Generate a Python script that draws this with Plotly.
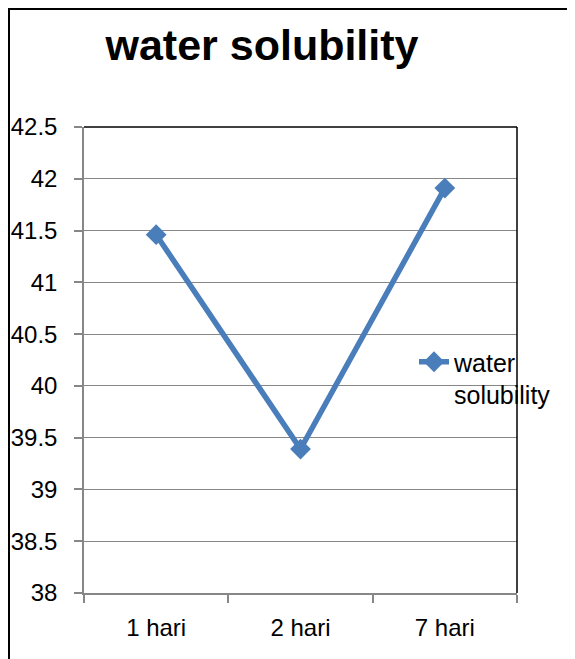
import plotly.graph_objects as go

categories = ["1 hari", "2 hari", "7 hari"]
values = [41.46, 39.39, 41.91]
series_name = "water solubility"
y_ticks = [38, 38.5, 39, 39.5, 40, 40.5, 41, 41.5, 42, 42.5]
y_labels = ["38", "38.5", "39", "39.5", "40", "40.5", "41", "41.5", "42", "42.5"]

# page body has an 8px margin; figure occupies screen 8..575 x 8..659
OFF = 8
W, H = 575 - OFF, 659 - OFF
L, T = 84 - OFF, 127 - OFF
R, B = W - (517 - OFF), H - (593 - OFF)
pw, ph = W - L - R, H - T - B

def px_x(X):
    return (X - 84) / pw

def px_y(Y):
    return (593 - Y) / ph

FONT = "Liberation Sans, Arial, sans-serif"
BLUE = "#4A7EBB"
GRID = "#878787"

fig = go.Figure()
fig.add_trace(go.Scatter(
    x=categories, y=values, mode="lines+markers", name="water<br>solubility",
    line=dict(color=BLUE, width=5.5),
    marker=dict(symbol="diamond", size=16, color=BLUE),
))

fig.update_layout(
    width=W, height=H,
    margin=dict(l=L, r=R, t=T, b=B, pad=0, autoexpand=False),
    paper_bgcolor="white", plot_bgcolor="white",
    font=dict(family=FONT, color="black", size=24),
    title=dict(text="<b>water solubility</b>", x=(262 - OFF) / W, xanchor="center",
               y=1 - (45 - OFF) / H, yanchor="middle", font=dict(size=43, family=FONT)),
    showlegend=True,
    legend=dict(x=px_x(414), y=px_y(339), xanchor="left", yanchor="top",
                bgcolor="rgba(0,0,0,0)", borderwidth=0, valign="top",
                font=dict(size=25, family=FONT)),
    xaxis=dict(range=[-0.5, 2.5], showgrid=False, showline=True, linecolor=GRID, linewidth=1.5,
               ticks="outside", ticklen=8, tickcolor=GRID, tickwidth=1.5,
               tickson="boundaries", ticklabelstandoff=12, automargin=False,
               tickfont=dict(size=24), fixedrange=True),
    yaxis=dict(range=[38, 42.5], tickvals=y_ticks, ticktext=y_labels,
               showgrid=True, gridcolor=GRID, gridwidth=1.2,
               showline=True, linecolor=GRID, linewidth=1.5,
               ticks="outside", ticklen=8, tickcolor=GRID, tickwidth=1.5,
               ticklabelstandoff=12, zeroline=False, automargin=False,
               tickfont=dict(size=24), fixedrange=True),
    shapes=[
        dict(type="line", xref="paper", yref="paper", x0=0, x1=1, y0=1, y1=1,
             line=dict(color="black", width=1.5), layer="above"),
        dict(type="line", xref="paper", yref="paper", x0=1, x1=1, y0=0, y1=1,
             line=dict(color="black", width=1.5), layer="above"),
        dict(type="rect", xref="paper", yref="paper",
             x0=px_x(9), x1=px_x(600), y0=px_y(9), y1=px_y(700),
             line=dict(color="black", width=2), fillcolor="rgba(0,0,0,0)",
             layer="above"),
    ],
)

fig.write_html("out.html")
